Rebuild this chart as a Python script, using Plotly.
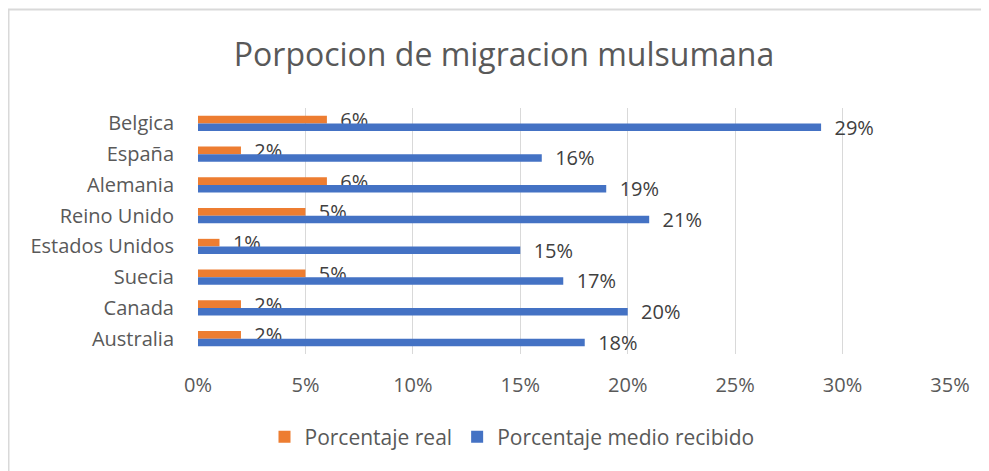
import plotly.graph_objects as go

categories = ["Belgica", "España", "Alemania", "Reino Unido", "Estados Unidos", "Suecia", "Canada", "Australia"]
real = [0.06, 0.02, 0.06, 0.05, 0.01, 0.05, 0.02, 0.02]
recibido = [0.29, 0.16, 0.19, 0.21, 0.15, 0.17, 0.20, 0.18]
x_ticks = [0, 0.05, 0.10, 0.15, 0.20, 0.25, 0.30, 0.35]
x_tick_labels = ["0%", "5%", "10%", "15%", "20%", "25%", "30%", "35%"]

FONT = "Open Sans"
pad = "\u00a0\u00a0"

# page body adds an 8px offset; layout values below are in figure pixels
L, R, T, B = 190, 942, 100, 346
W, H = 989, 471
pw, ph = R - L, B - T

fig = go.Figure()
fig.add_trace(go.Bar(
    name="Porcentaje real", y=categories, x=real, orientation="h",
    marker=dict(color="#ED7D31", line=dict(width=0)),
    text=[pad + f"{v*100:.0f}%" for v in real], textposition="outside", constraintext="none",
    textfont=dict(family=FONT, size=20, color="#404040"), cliponaxis=False,
))
fig.add_trace(go.Bar(
    name="Porcentaje medio recibido", y=categories, x=recibido, orientation="h",
    marker=dict(color="#4472C4", line=dict(width=0)),
    text=[pad + f"{v*100:.0f}%" for v in recibido], textposition="outside", constraintext="none",
    textfont=dict(family=FONT, size=20, color="#404040"), cliponaxis=False,
))

fig.update_layout(
    width=W, height=H,
    margin=dict(l=L, r=W - R, t=T, b=H - B),
    paper_bgcolor="white", plot_bgcolor="white",
    barmode="group", bargap=0.51, bargroupgap=0,
    title=dict(text="Porpocion de migracion mulsumana", x=496 / W, xref="container", xanchor="center",
               y=1 - 47 / H, yref="container", yanchor="middle",
               font=dict(family=FONT, size=32, color="#595959")),
    font=dict(family=FONT, size=20, color="#595959"),
    xaxis=dict(range=[0, 0.35], tickvals=x_ticks, ticktext=x_tick_labels,
               showgrid=True, gridcolor="#D9D9D9", gridwidth=1, zeroline=False,
               showline=False, ticks="", ticklabelstandoff=17,
               tickfont=dict(family=FONT, size=20, color="#595959")),
    yaxis=dict(autorange="reversed", showgrid=False, showline=False, ticks="",
               ticklabelstandoff=23,
               tickfont=dict(family=FONT, size=20, color="#595959")),
    legend=dict(orientation="h", x=504 / W, xanchor="center", xref="container",
                y=1 - 429 / H, yanchor="middle", yref="container",
                font=dict(family=FONT, size=21, color="#595959"), traceorder="normal",
                itemwidth=30),
    showlegend=True,
    shapes=[dict(type="rect", xref="paper", yref="paper",
                 x0=(0.5 - L) / pw, x1=(1000 - L) / pw,
                 y0=(B - 480) / ph, y1=(B - 1.5) / ph,
                 line=dict(color="#D9D9D9", width=2), fillcolor="rgba(0,0,0,0)", layer="below")],
)

fig.write_html("out.html")
